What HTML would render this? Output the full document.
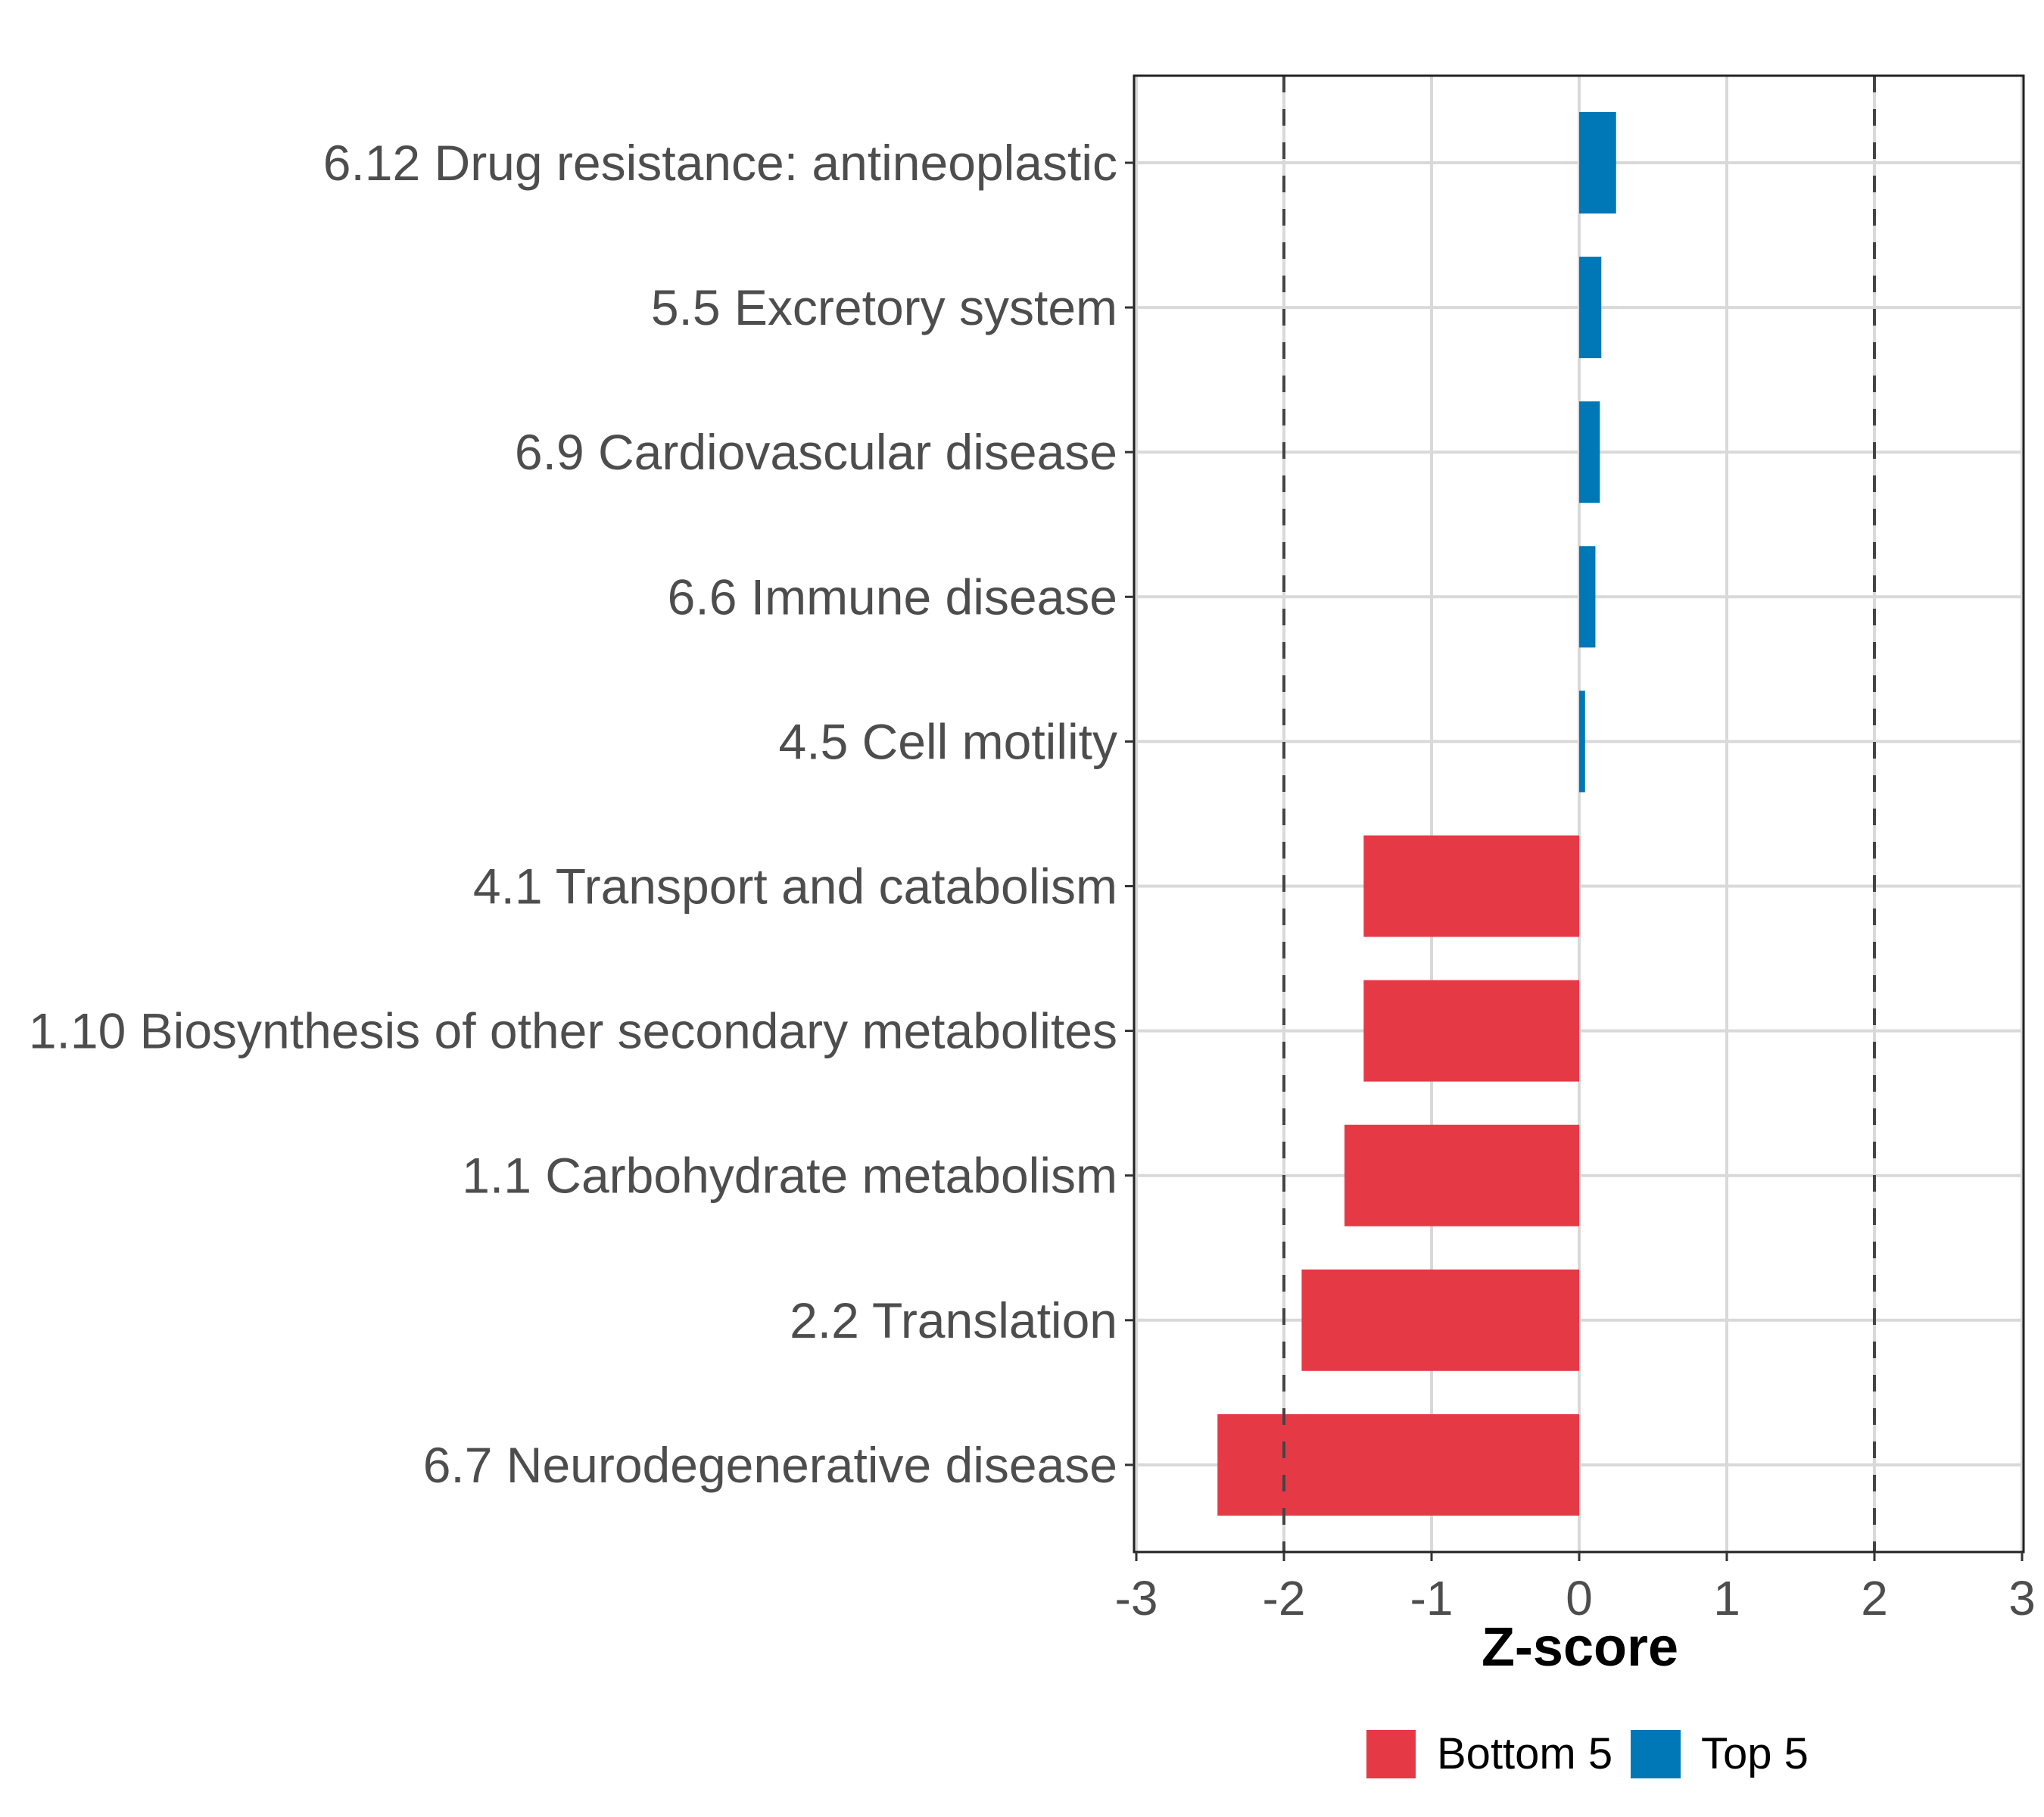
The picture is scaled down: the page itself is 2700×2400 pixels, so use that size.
<!DOCTYPE html>
<html><head><meta charset="utf-8"><style>
html,body{margin:0;padding:0;background:#fff}
svg{display:block;font-family:"Liberation Sans",sans-serif}
</style></head><body>
<svg id="chart" width="2700" height="2400" viewBox="0 0 2700 2400">
<rect x="1498" y="100" width="1175" height="1950" fill="#fff"/>
<g id="grid"></g><g id="bars"></g><g id="refs"></g>
<rect x="1498" y="100" width="1175" height="1950" fill="none" stroke="#222" stroke-width="3"/>
<g id="axes"></g>
<text x="2087" y="2200" font-size="72" font-weight="bold" text-anchor="middle" fill="#000">Z-score</text>
<g>
<rect x="1805" y="2285" width="65" height="64" fill="#E63946"/>
<text x="1898" y="2336" font-size="58" fill="#000">Bottom 5</text>
<rect x="2154" y="2285" width="66" height="64" fill="#0077B6"/>
<text x="2247" y="2336" font-size="58" fill="#000">Top 5</text>
</g>
</svg>
<script>
const categories = ["6.12 Drug resistance: antineoplastic","5.5 Excretory system","6.9 Cardiovascular disease","6.6 Immune disease","4.5 Cell motility","4.1 Transport and catabolism","1.10 Biosynthesis of other secondary metabolites","1.1 Carbohydrate metabolism","2.2 Translation","6.7 Neurodegenerative disease"];
const values = [0.25,0.15,0.14,0.11,0.04,-1.46,-1.46,-1.59,-1.88,-2.45];
const groups = ["Top 5","Top 5","Top 5","Top 5","Top 5","Bottom 5","Bottom 5","Bottom 5","Bottom 5","Bottom 5"];
const xTicks = [-3,-2,-1,0,1,2,3];
const refLines = [-2,2];

const NS="http://www.w3.org/2000/svg";
function xS(v){return 2086+v*195;}
function yS(i){return 215+i*191.1;}
function mk(tag,attrs,parent,text){const e=document.createElementNS(NS,tag);for(const k in attrs)e.setAttribute(k,attrs[k]);if(text!==undefined)e.textContent=text;parent.appendChild(e);return e;}
const grid=document.getElementById('grid'),bars=document.getElementById('bars'),refs=document.getElementById('refs'),axes=document.getElementById('axes');
xTicks.forEach(t=>{
  const l=mk('line',{x1:xS(t),x2:xS(t),y1:100,y2:2050,stroke:'#d9d9d9','stroke-width':4},grid);
  
  
  const tk=mk('line',{x1:xS(t),x2:xS(t),y1:2050,y2:2062,stroke:'#333','stroke-width':3},axes);
  
  
  const tx=mk('text',{x:xS(t),y:2133,'font-size':64,'text-anchor':'middle',fill:'#4d4d4d'},axes,String(t));
  
  
});
categories.forEach((c,i)=>{
  const y=yS(i);
  const g=mk('line',{x1:1498,x2:2673,y1:y,y2:y,stroke:'#d9d9d9','stroke-width':4},grid);
  
  
  const v=values[i];
  const r=mk('rect',{x:Math.min(xS(0),xS(v)),y:y-67,width:Math.abs(xS(v)-xS(0)),height:134,fill:groups[i]==='Top 5'?'#0077B6':'#E63946'},bars);
  
  
  const tk=mk('line',{x1:1486,x2:1498,y1:y,y2:y,stroke:'#333','stroke-width':3},axes);
  
  
  const tx=mk('text',{x:1476,y:y+23,'font-size':66,'text-anchor':'end',fill:'#4d4d4d'},axes,c);
  
  
});
refLines.forEach(r=>{
  const l=mk('line',{x1:xS(r),x2:xS(r),y1:100,y2:2050,stroke:'#444','stroke-width':4,'stroke-dasharray':'22 22'},refs);
  
  
});
</script>
</body></html>
